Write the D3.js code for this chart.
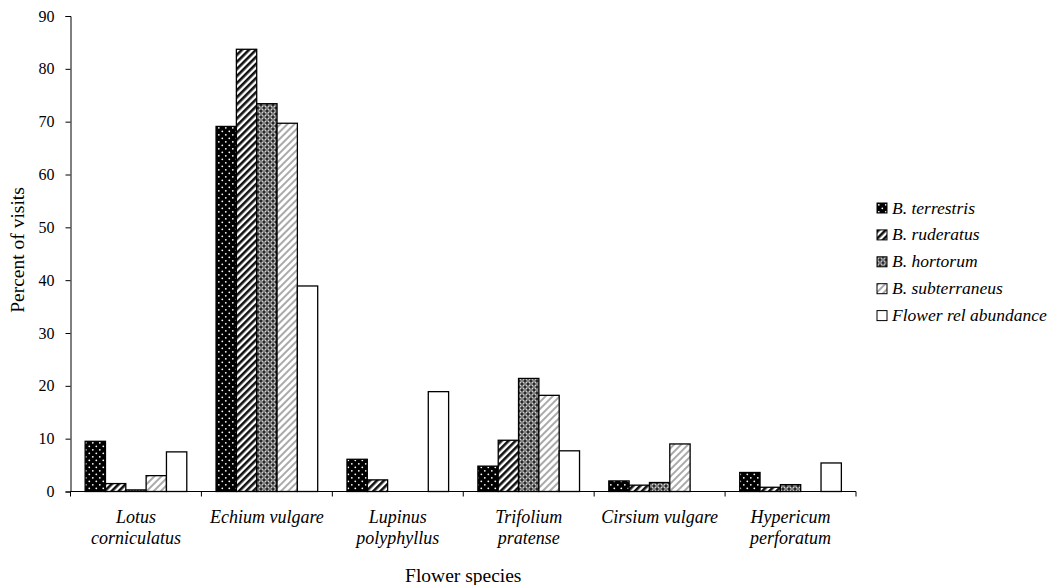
<!DOCTYPE html>
<html>
<head>
<meta charset="utf-8">
<script src="https://cdn.jsdelivr.net/npm/d3@7"></script>
<style>
  html, body { margin: 0; padding: 0; background: #fff; }
  svg { display: block; }
  text { font-family: "Liberation Serif", "Times New Roman", serif; fill: #000; }
</style>
</head>
<body>
<svg id="chart" width="1054" height="585"></svg>
<script>
// Flower species (two-line italic labels)
const categories = [
  ["Lotus", "corniculatus"],
  ["Echium vulgare"],
  ["Lupinus", "polyphyllus"],
  ["Trifolium", "pratense"],
  ["Cirsium vulgare"],
  ["Hypericum", "perforatum"]
];
const seriesNames = ["B. terrestris", "B. ruderatus", "B. hortorum", "B. subterraneus", "Flower rel abundance"];

// Percent of visits per series, one value per flower species
const terrestris   = [9.5, 69.1, 6.1, 4.8, 2.0, 3.6];
const ruderatus    = [1.5, 83.7, 2.2, 9.7, 1.2, 0.8];
const hortorum     = [0.3, 73.4, 0, 21.4, 1.7, 1.3];
const subterraneus = [3.0, 69.7, 0, 18.2, 9.0, 0];
const flowerAbund  = [7.5, 38.9, 18.9, 7.7, 0, 5.4];
const yTicks = [0, 10, 20, 30, 40, 50, 60, 70, 80, 90];

const seriesValues = [terrestris, ruderatus, hortorum, subterraneus, flowerAbund];

const svg = d3.select("#chart");
const margin = { left: 70.5, right: 198, top: 16, bottom: 93.5 };
const W = 1054, H = 585;
const plotW = W - margin.left - margin.right;
const plotH = H - margin.top - margin.bottom;

// ---- fill patterns ----
const defs = svg.append("defs");

// dark dotted fill
const pDots = defs.append("pattern").attr("id", "pat-dots")
  .attr("patternUnits", "userSpaceOnUse").attr("width", 7).attr("height", 7);
pDots.append("rect").attr("width", 7).attr("height", 7).attr("fill", "#000");
pDots.append("circle").attr("cx", 1.8).attr("cy", 1.8).attr("r", 0.9).attr("fill", "#fff");
pDots.append("circle").attr("cx", 5.3).attr("cy", 5.3).attr("r", 0.9).attr("fill", "#fff");

// dark diagonal stripes
const pDark = defs.append("pattern").attr("id", "pat-dark")
  .attr("patternUnits", "userSpaceOnUse").attr("width", 5).attr("height", 5)
  .attr("patternTransform", "rotate(45)");
pDark.append("rect").attr("width", 5).attr("height", 5).attr("fill", "#fff");
pDark.append("rect").attr("width", 2.6).attr("height", 5).attr("fill", "#111");

// grey cross-hatched fill
const pCross = defs.append("pattern").attr("id", "pat-cross")
  .attr("patternUnits", "userSpaceOnUse").attr("width", 6).attr("height", 6);
pCross.append("rect").attr("width", 6).attr("height", 6).attr("fill", "#8a8a8a");
pCross.append("path").attr("d", "M0,0L6,6M6,0L0,6").attr("stroke", "#d8d8d8").attr("stroke-width", 1.1);
pCross.append("path").attr("d", "M3,1.5V4.5M1.5,3H4.5").attr("stroke", "#000").attr("stroke-width", 1.2);
pCross.append("path").attr("d", "M0,-1.5V1.5M-1.5,0H1.5M6,-1.5V1.5M4.5,0H7.5M0,4.5V7.5M-1.5,6H1.5M6,4.5V7.5M4.5,6H7.5")
  .attr("stroke", "#000").attr("stroke-width", 1.2);

// light diagonal stripes
const pLight = defs.append("pattern").attr("id", "pat-light")
  .attr("patternUnits", "userSpaceOnUse").attr("width", 5).attr("height", 5)
  .attr("patternTransform", "rotate(45)");
pLight.append("rect").attr("width", 5).attr("height", 5).attr("fill", "#fff");
pLight.append("rect").attr("width", 2).attr("height", 5).attr("fill", "#aaa");

const fills = ["url(#pat-dots)", "url(#pat-dark)", "url(#pat-cross)", "url(#pat-light)", "#fff"];

// ---- scales ----
const x0 = d3.scaleBand().domain(d3.range(categories.length))
  .range([margin.left, margin.left + plotW]).paddingInner(0).paddingOuter(0);
const x1 = d3.scaleBand().domain(d3.range(seriesNames.length))
  .range([0, x0.bandwidth()]).paddingOuter(0.72).paddingInner(0);
const y = d3.scaleLinear().domain([0, 90]).range([margin.top + plotH, margin.top]);

// ---- bars (zero values are not drawn) ----
const g = svg.append("g");
seriesValues.forEach((vals, si) => {
  const pts = vals.map((v, i) => ({ v, i })).filter(d => d.v > 0);
  g.selectAll(null).data(pts).enter().append("rect")
    .attr("x", d => x0(d.i) + x1(si))
    .attr("y", d => y(d.v))
    .attr("width", x1.bandwidth())
    .attr("height", d => y(0) - y(d.v))
    .attr("fill", fills[si])
    .attr("stroke", "#000")
    .attr("stroke-width", 1.3);
});

// ---- y axis ----
const yAxis = svg.append("g").attr("transform", `translate(${margin.left},0)`)
  .call(d3.axisLeft(y).tickValues(yTicks).tickSize(5).tickPadding(11));
yAxis.selectAll("path, line").attr("stroke", "#000").attr("stroke-width", 1);
yAxis.selectAll("text").style("font-family", '"Liberation Serif", serif').style("font-size", "16px");

// ---- x axis ----
const xLine = svg.append("g").attr("transform", `translate(0,${y(0)})`);
xLine.append("line").attr("x1", margin.left).attr("x2", margin.left + plotW)
  .attr("stroke", "#000").attr("stroke-width", 1);
const bounds = d3.range(categories.length + 1).map(i => margin.left + i * x0.step());
xLine.selectAll(".xt").data(bounds).enter().append("line")
  .attr("x1", d => d).attr("x2", d => d).attr("y1", 0).attr("y2", 5)
  .attr("stroke", "#000").attr("stroke-width", 1);

// category labels
categories.forEach((lines, i) => {
  const cx = x0(i) + x0.bandwidth() / 2;
  const t = svg.append("text")
    .attr("x", cx)
    .attr("y", y(0) + 31)
    .attr("text-anchor", "middle")
    .style("font-style", "italic")
    .style("font-size", "18px");
  lines.forEach((ln, k) => {
    t.append("tspan").attr("x", cx).attr("dy", k === 0 ? 0 : 21).text(ln);
  });
});

// axis titles
svg.append("text")
  .attr("x", margin.left + plotW / 2)
  .attr("y", 582)
  .attr("text-anchor", "middle")
  .style("font-size", "19.5px")
  .text("Flower species");

svg.append("text")
  .attr("transform", `translate(24,250) rotate(-90)`)
  .attr("text-anchor", "middle")
  .style("font-size", "19.5px")
  .text("Percent of visits");

// ---- legend ----
const legend = svg.append("g").attr("transform", "translate(877,203)");
seriesNames.forEach((name, i) => {
  const row = legend.append("g").attr("transform", `translate(0,${i * 26.9})`);
  row.append("rect").attr("x", 0).attr("y", 0).attr("width", 10).attr("height", 10)
    .attr("fill", fills[i]).attr("stroke", "#000").attr("stroke-width", 1);
  row.append("text").attr("x", 15).attr("y", 10.5)
    .style("font-style", "italic").style("font-size", "17.5px").text(name);
});
</script>
</body>
</html>
